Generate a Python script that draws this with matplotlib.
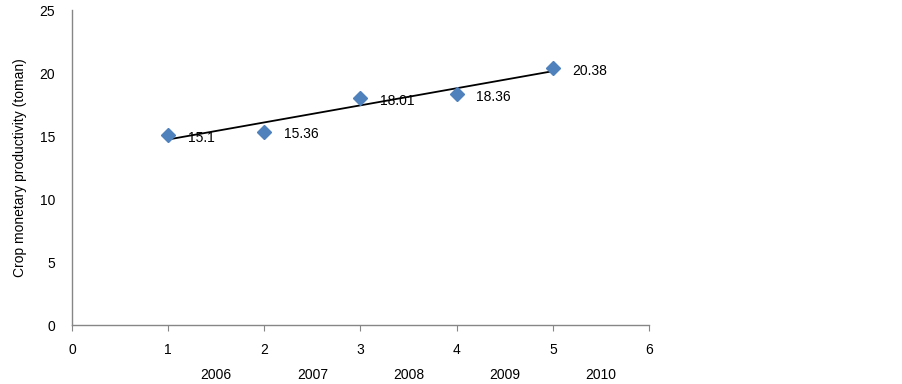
import numpy as np
import matplotlib.pyplot as plt

plt.rcParams['font.family'] = ['Liberation Sans', 'DejaVu Sans']

x = [1, 2, 3, 4, 5]
productivity = [15.1, 15.36, 18.01, 18.36, 20.38]
value_labels = ["15.1", "15.36", "18.01", "18.36", "20.38"]
years = ["2006", "2007", "2008", "2009", "2010"]
year_pos = [1.5, 2.5, 3.5, 4.5, 5.5]

fig = plt.figure(figsize=(9.03, 3.84), dpi=100)
ax = fig.add_axes([0.0797, 0.1536, 0.639, 0.82])

# linear trend line
coef = np.polyfit(x, productivity, 1)
xt = np.array([x[0], x[-1]])
ax.plot(xt, np.polyval(coef, xt), color='black', lw=1.3, zorder=2)

ax.plot(x, productivity, 'D', color='#4F81BD', markersize=7.5, zorder=3, linestyle='none')

for xi, yi, lab in zip(x, productivity, value_labels):
    ax.annotate(lab, (xi, yi), xytext=(14, -2), textcoords='offset points',
                fontsize=10, va='center', ha='left')

for xp, yr in zip(year_pos, years):
    ax.annotate(yr, (xp, 0), xycoords=('data', 'axes fraction'), xytext=(0, -36),
                textcoords='offset points', ha='center', va='center', fontsize=10)

ax.set_xlim(0, 6)
ax.set_ylim(0, 25)
ax.set_xticks(range(0, 7))
ax.set_yticks(range(0, 26, 5))
ax.spines['top'].set_visible(False)
ax.spines['right'].set_visible(False)
for s in ['left', 'bottom']:
    ax.spines[s].set_color('#868686')
    ax.spines[s].set_linewidth(1)
ax.tick_params(axis='x', length=4, color='#868686', labelsize=10, pad=9)
ax.tick_params(axis='y', length=0, labelsize=10, pad=12)
ax.set_ylabel("Crop monetary productivity (toman)", fontsize=10, labelpad=9)

fig.savefig('out.png', dpi=100)
